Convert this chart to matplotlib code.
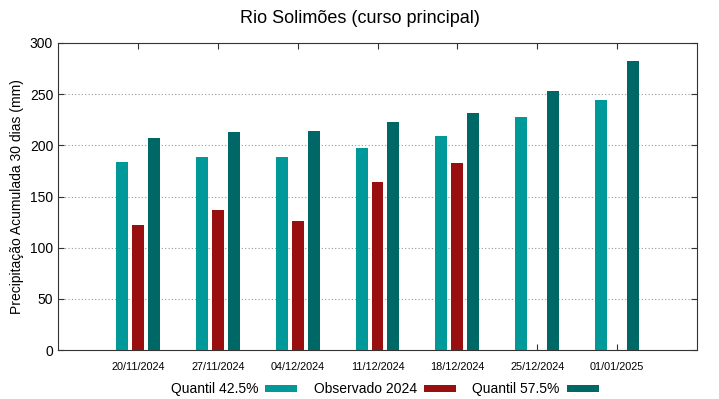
import numpy as np
import matplotlib.pyplot as plt

plt.rcParams['font.family'] = ['Liberation Sans', 'DejaVu Sans']

datas = ['20/11/2024', '27/11/2024', '04/12/2024', '11/12/2024',
         '18/12/2024', '25/12/2024', '01/01/2025']
q425 = [184, 189, 189, 197, 209.5, 227.5, 244.5]
obs2024 = [122, 137, 126, 164, 183, np.nan, np.nan]
q575 = [207, 213, 214, 223, 232, 253, 282]

cor_q425 = '#009999'
cor_obs = '#990e0e'
cor_q575 = '#006767'

fig = plt.figure(figsize=(7.19, 3.99), dpi=100)
ax = fig.add_axes([58 / 719, 49 / 399, 639 / 719, 307 / 399])

x = np.arange(len(datas))
w = 0.15
ax.bar(x - 0.2, q425, w, color=cor_q425, label='Quantil 42.5%', zorder=3)
ax.bar(x, obs2024, w, color=cor_obs, label='Observado 2024', zorder=3)
ax.bar(x + 0.2, q575, w, color=cor_q575, label='Quantil 57.5%', zorder=3)

ax.set_xlim(-1, 7)
ax.set_ylim(0, 300)
ax.set_xticks(x)
ax.set_xticklabels(datas, fontsize=7.8)
ax.set_yticks(np.arange(0, 301, 50))
ax.tick_params(axis='y', labelsize=10)
ax.tick_params(direction='in', top=True, right=True, length=4, color='#333333')
ax.tick_params(axis='x', pad=9)
ax.yaxis.grid(True, linestyle=(0, (1, 2)), color='#999999', linewidth=0.8, zorder=0)
for s in ax.spines.values():
    s.set_color('#333333')

ax.set_ylabel('Precipitação Acumulada 30 dias (mm)', fontsize=10)
fig.suptitle('Rio Solimões (curso principal)', fontsize=13, y=0.975)

leg = fig.legend(loc='lower center', bbox_to_anchor=(0.535, -0.025), ncol=3,
                 frameon=False, markerfirst=False, fontsize=10,
                 handlelength=2.3, handleheight=0.35, columnspacing=1.2,
                 handletextpad=0.5)

plt.savefig('out.png', dpi=100)
